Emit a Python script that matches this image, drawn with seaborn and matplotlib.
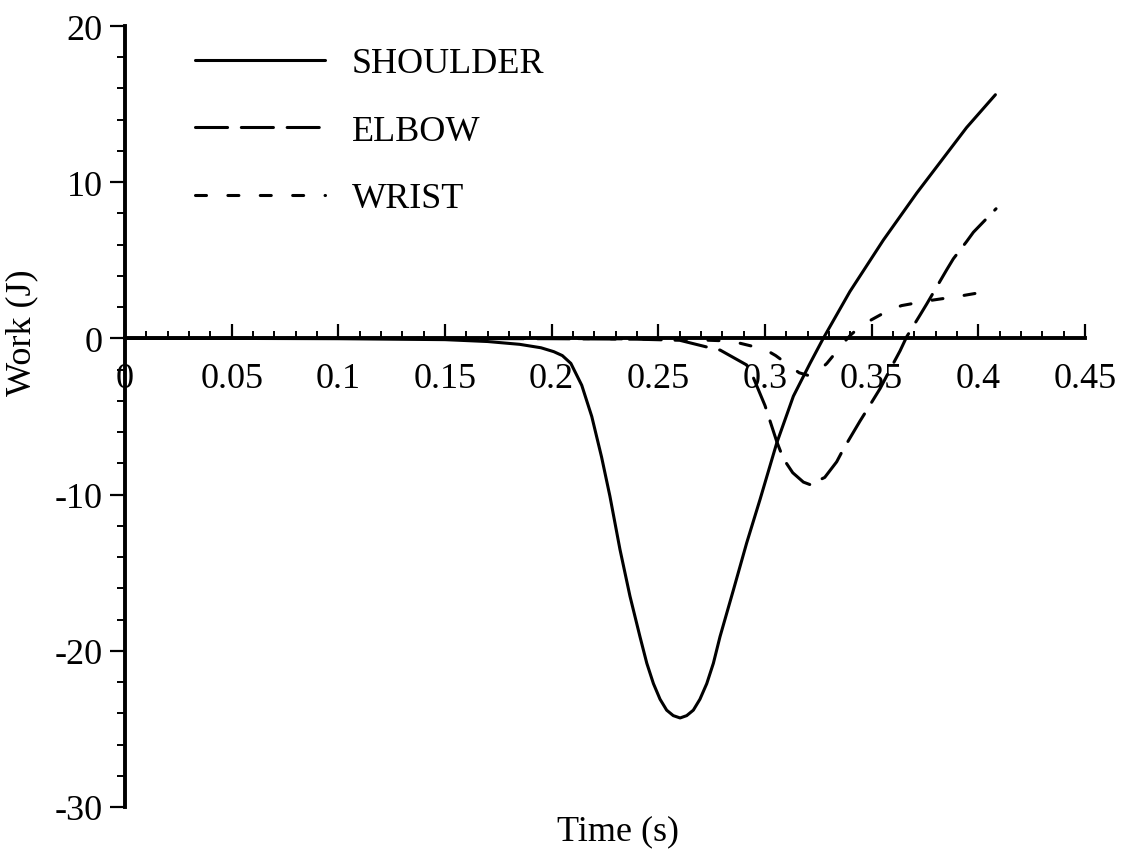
import matplotlib
matplotlib.use("Agg")
import matplotlib.pyplot as plt
import seaborn as sns
import pandas as pd
from matplotlib.ticker import MultipleLocator

# ---- data ----
shoulder_t = [0.0, 0.05, 0.10, 0.15, 0.17, 0.185, 0.195, 0.201, 0.205, 0.209, 0.2141,
              0.2188, 0.2234, 0.2273, 0.232, 0.2367, 0.2414, 0.2446, 0.2477, 0.2508,
              0.2539, 0.2570, 0.2602, 0.2633, 0.2664, 0.2695, 0.2727, 0.2758, 0.2789,
              0.2852, 0.2914, 0.2977, 0.3055, 0.3133, 0.3211, 0.3273, 0.3398, 0.3555,
              0.3711, 0.3867, 0.3945, 0.408]
shoulder_w = [0.0, 0.0, -0.02, -0.08, -0.2, -0.38, -0.6, -0.85, -1.1, -1.6, -3.0,
              -5.0, -7.6, -10.1, -13.5, -16.5, -19.1, -20.8, -22.1, -23.1,
              -23.8, -24.15, -24.3, -24.15, -23.8, -23.1, -22.1, -20.8, -19.1,
              -16.1, -13.1, -10.3, -6.7, -3.7, -1.6, 0.0, 3.0, 6.3,
              9.3, 12.1, 13.5, 15.6]

elbow_t = [0.0, 0.1, 0.2, 0.24, 0.26, 0.2727, 0.279, 0.2914, 0.2945, 0.300, 0.3055,
           0.3086, 0.313, 0.318, 0.3211, 0.328, 0.3336, 0.3367, 0.3445, 0.3477, 0.354,
           0.3586, 0.3633, 0.3664, 0.3727, 0.3758, 0.3852, 0.3883, 0.3945, 0.3977, 0.4083]
elbow_w = [0.0, 0.0, -0.02, -0.05, -0.12, -0.55, -0.75, -1.7, -2.5, -4.3, -6.6,
           -7.7, -8.6, -9.2, -9.36, -8.9, -7.9, -7.1, -5.3, -4.6, -3.2,
           -2.0, -0.8, 0.1, 1.5, 2.2, 4.4, 5.1, 6.2, 6.8, 8.3]

wrist_t = [0.0, 0.1, 0.2, 0.26, 0.28, 0.288, 0.3, 0.305, 0.31, 0.316, 0.321, 0.325,
           0.329, 0.332, 0.336, 0.34, 0.345, 0.35, 0.358, 0.364, 0.376, 0.391, 0.408]
wrist_w = [0.0, 0.0, 0.0, -0.05, -0.15, -0.3, -0.7, -1.1, -1.6, -2.2, -2.4, -2.1,
           -1.6, -1.1, -0.4, 0.2, 0.8, 1.2, 1.8, 2.1, 2.4, 2.7, 3.1]

series_names = ["SHOULDER", "ELBOW", "WRIST"]
x_ticks = [0, 0.05, 0.1, 0.15, 0.2, 0.25, 0.3, 0.35, 0.4, 0.45]
x_ticklabels = ["0", "0.05", "0.1", "0.15", "0.2", "0.25", "0.3", "0.35", "0.4", "0.45"]
y_ticks = [-30, -20, -10, 0, 10, 20]
y_ticklabels = ["-30", "-20", "-10", "0", "10", "20"]

sns.set_style("ticks")
plt.rcParams["font.family"] = ["Liberation Serif", "DejaVu Serif"]
plt.rcParams["axes.unicode_minus"] = False
plt.rcParams["text.color"] = "black"
plt.rcParams["axes.edgecolor"] = "black"
plt.rcParams["xtick.color"] = "black"
plt.rcParams["ytick.color"] = "black"
plt.rcParams["xtick.labelcolor"] = "black"
plt.rcParams["ytick.labelcolor"] = "black"

W, H = 1122, 853
fig = plt.figure(figsize=(W / 100, H / 100), dpi=100)
ax = fig.add_axes([125 / W, 1 - 808 / H, (1085 - 125) / W, (808 - 27) / H])

LW = 2.2
styles = {
    "SHOULDER": None,
    "ELBOW": (10.5, 4.5),
    "WRIST": (3.6, 7.0),
}
data = {
    "SHOULDER": (shoulder_t, shoulder_w),
    "ELBOW": (elbow_t, elbow_w),
    "WRIST": (wrist_t, wrist_w),
}
for name in series_names:
    t, w = data[name]
    df = pd.DataFrame({"t": t, "w": w})
    sns.lineplot(data=df, x="t", y="w", ax=ax, color="black", linewidth=LW,
                 label=name, sort=False, estimator=None)
    line = ax.get_lines()[-1]
    line.set_solid_capstyle("round")
    line.set_dash_capstyle("round")
    line.set_solid_joinstyle("round")
    if styles[name] is not None:
        line.set_dashes(styles[name])

ax.set_xlim(0, 0.45)
ax.set_ylim(-30, 20)
ax.spines["top"].set_visible(False)
ax.spines["right"].set_visible(False)
ax.spines["bottom"].set_position(("data", 0))
ax.spines["left"].set_linewidth(2.8)
ax.spines["bottom"].set_linewidth(2.8)

ax.set_xticks(x_ticks)
ax.set_xticklabels(x_ticklabels)
ax.xaxis.set_minor_locator(MultipleLocator(0.01))
ax.set_yticks(y_ticks)
ax.set_yticklabels(y_ticklabels)
ax.yaxis.set_minor_locator(MultipleLocator(2))

ax.tick_params(axis="x", which="major", direction="in", length=10, width=1.6,
               pad=17, labelsize=26)
ax.tick_params(axis="x", which="minor", direction="in", length=5, width=1.4)
ax.tick_params(axis="y", which="major", direction="out", length=11, width=1.6,
               pad=5, labelsize=26)
ax.tick_params(axis="y", which="minor", direction="out", length=6, width=1.4)

ax.set_xlabel("")
ax.set_ylabel("")
fig.text(618 / W, 1 - 832 / H, "Time (s)", ha="center", va="center", fontsize=26)
fig.text(22 / W, 1 - 333 / H, "Work (J)", ha="center", va="center",
         rotation=90, fontsize=26)

leg = ax.legend(loc="upper left", bbox_to_anchor=(195 / W, 1 - 48 / H),
                bbox_transform=fig.transFigure, frameon=False, fontsize=26,
                handlelength=3.6, handletextpad=0.75, labelspacing=0.95,
                borderpad=0, borderaxespad=0)

fig.savefig("out.png", dpi=100)
